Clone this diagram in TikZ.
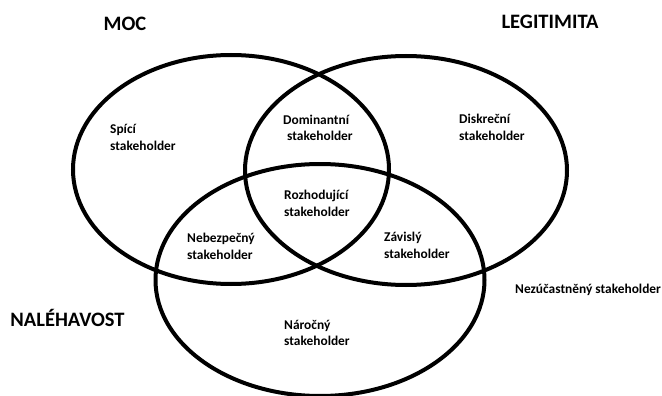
\documentclass[tikz,border=0pt]{standalone}
\usepackage{fontspec}
\setmainfont{Carlito}
\begin{document}
\begin{tikzpicture}[x=1pt,y=-1pt,
  ring/.style={draw=black,line width=4pt},
  lbl/.style={font=\bfseries\fontsize{13.4}{16.5}\selectfont,align=left,anchor=west,inner sep=0pt,text=black},
  head/.style={font=\bfseries\fontsize{20.5}{24}\selectfont,inner sep=0pt,text=black}]
\useasboundingbox (0,0) rectangle (662,396);
\begin{scope}
\clip (0,0) rectangle (662,396);
\draw[ring] (231,169.5) ellipse [x radius=158, y radius=114.5];
\draw[ring] (406,170.5) ellipse [x radius=161, y radius=114.5];
\draw[ring] (320,280) ellipse [x radius=164.5, y radius=116];
\end{scope}
\node[head] (moc) at (125,24) {MOC};
\node[head] (leg) at (550,22) {LEGITIMITA};
\node[head] (nal) at (67.5,318) {NALÉHAVOST};
\node[lbl] (spici) at (110,137.5) {Spící\\stakeholder};
\node[lbl] (dom) at (283,128) {Dominantní\\\hspace*{4pt}stakeholder};
\node[lbl] (disk) at (459,127.5) {Diskreční\\stakeholder};
\node[lbl] (roz) at (284,203.5) {Rozhodující\\stakeholder};
\node[lbl] (neb) at (187,246.5) {Nebezpečný\\stakeholder};
\node[lbl] (zav) at (384,245.5) {Závislý\\stakeholder};
\node[lbl] (nar) at (284,333) {Náročný\\stakeholder};
\node[lbl] (nez) at (515,290) {Nezúčastněný stakeholder};
\end{tikzpicture}
\end{document}
